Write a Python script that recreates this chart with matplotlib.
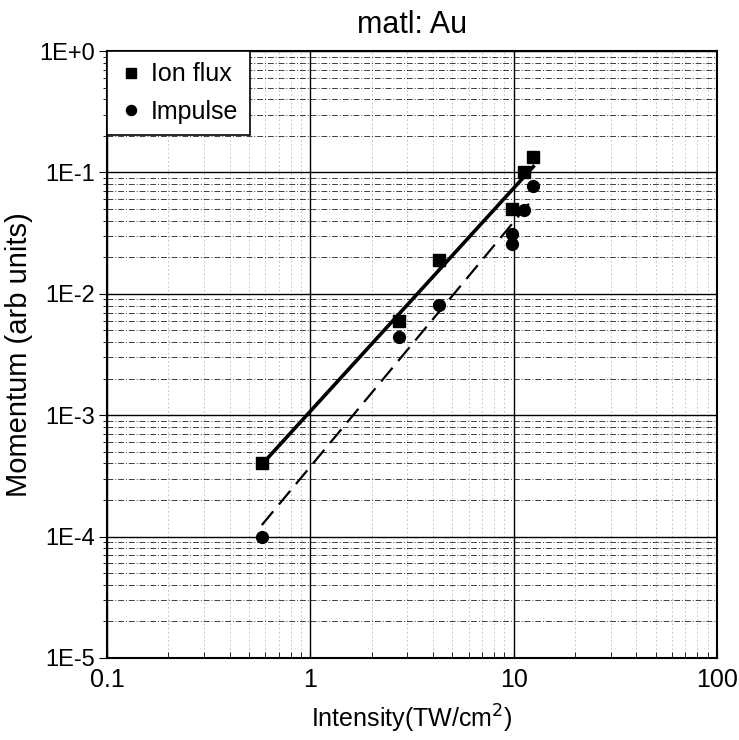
import matplotlib.pyplot as plt
import numpy as np
from matplotlib.ticker import LogLocator, NullFormatter, FixedLocator

plt.rcParams['font.family'] = ['Liberation Sans', 'DejaVu Sans']

ion_x = [0.577, 2.72, 4.3, 9.8, 11.3, 12.5]
ion_y = [4e-4, 6.0e-3, 1.9e-2, 5.0e-2, 0.10, 0.135]
imp_x = [0.577, 2.72, 4.3, 9.8, 9.8, 11.3, 12.5]
imp_y = [1e-4, 4.4e-3, 8.1e-3, 3.1e-2, 2.55e-2, 4.87e-2, 7.8e-2]

x_ticks = [0.1, 1, 10, 100]
x_labels = ['0.1', '1', '10', '100']
y_ticks = [1e-5, 1e-4, 1e-3, 1e-2, 1e-1, 1e0]
y_labels = ['1E-5', '1E-4', '1E-3', '1E-2', '1E-1', '1E+0']


def power_fit(x, y):
    # straight line in log-log, drawn over the data range
    p = np.polyfit(np.log10(x), np.log10(y), 1)
    xf = np.array([min(x), max(x)])
    return xf, 10 ** np.polyval(p, np.log10(xf))


fig = plt.figure(figsize=(7.39, 7.40), dpi=100)
ax = fig.add_axes([0.145, 0.111, 0.825, 0.820])
ax.set_xscale('log')
ax.set_yscale('log')
ax.set_xlim(0.1, 100)
ax.set_ylim(1e-5, 1)

# grid: solid decades, dashed minors
ax.grid(True, which='major', color='k', lw=1.0, ls='-')
ax.yaxis.grid(True, which='minor', color='k', lw=0.7, ls=(0, (6, 2, 1, 2)), alpha=0.75)
ax.xaxis.grid(True, which='minor', color='0.55', lw=0.6, ls=(0, (2, 3)), alpha=0.6)
ax.set_axisbelow(True)

fx, fy = power_fit(ion_x, ion_y)
ax.plot(fx, fy, color='k', lw=2.6, zorder=3)
fx, fy = power_fit(imp_x, imp_y)
ax.plot(fx, fy, color='k', lw=1.6, ls=(0, (8, 4)), zorder=3)

ax.plot(ion_x, ion_y, 's', color='k', ms=9, ls='none', label='Ion flux', zorder=4)
ax.plot(imp_x, imp_y, 'o', color='k', ms=8.5, ls='none', label='Impulse', zorder=4)

ax.xaxis.set_major_locator(FixedLocator(x_ticks))
ax.set_xticklabels(x_labels)
ax.yaxis.set_major_locator(FixedLocator(y_ticks))
ax.set_yticklabels(y_labels)
ax.xaxis.set_minor_locator(LogLocator(base=10, subs=np.arange(2, 10), numticks=20))
ax.yaxis.set_minor_locator(LogLocator(base=10, subs=np.arange(2, 10), numticks=20))
ax.xaxis.set_minor_formatter(NullFormatter())
ax.yaxis.set_minor_formatter(NullFormatter())

ax.tick_params(axis='x', which='both', direction='in', labelsize=18, pad=7)
ax.tick_params(axis='x', which='major', length=6)
ax.tick_params(axis='x', which='minor', length=4)
ax.tick_params(axis='y', which='both', direction='out', labelsize=17, pad=3)
ax.tick_params(axis='y', which='major', length=6)
ax.tick_params(axis='y', which='minor', length=3)
for s in ax.spines.values():
    s.set_linewidth(1.5)

ax.set_xlabel('Intensity(TW/cm$^2$)', fontsize=18, labelpad=8)
ax.set_ylabel('Momentum (arb units)', fontsize=21, labelpad=4)
ax.set_title('matl: Au', fontsize=22, pad=13)

leg = ax.legend(loc='upper left', fontsize=18, frameon=True, fancybox=False,
                borderaxespad=0, handletextpad=0.3, handlelength=1.0,
                labelspacing=0.55, borderpad=0.45, markerscale=0.85)
leg.get_frame().set_edgecolor('k')
leg.get_frame().set_linewidth(1.2)
leg.get_frame().set_alpha(1)

fig.savefig('out.png', dpi=100)
